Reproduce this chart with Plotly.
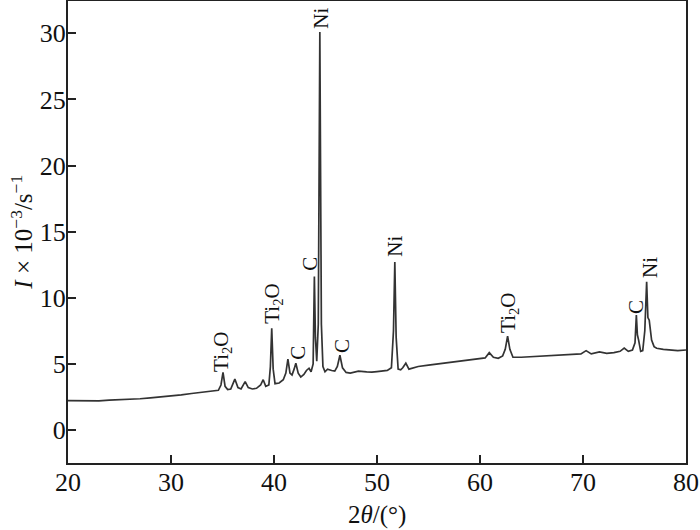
import plotly.graph_objects as go

two_theta = [20.0, 21.0, 22.0, 23.0, 24.0, 25.0, 26.0, 27.0, 28.0, 29.0, 30.0, 31.0, 32.0, 33.0, 34.0,
             34.6, 34.85, 35.05, 35.25, 35.5, 35.8, 36.2, 36.5, 36.8, 37.2, 37.5, 37.9, 38.3, 38.7, 38.95,
             39.2, 39.5, 39.65, 39.78, 39.92, 40.1, 40.5, 40.9, 41.15, 41.35, 41.55, 41.75, 41.95, 42.12,
             42.35, 42.6, 42.9, 43.15, 43.4, 43.6, 43.8, 43.92, 44.02, 44.15, 44.3, 44.45, 44.6, 44.75,
             44.95, 45.2, 45.6, 45.9, 46.15, 46.4, 46.65, 47.0, 47.4, 47.8, 48.2, 49.0, 49.5, 50.0, 50.5,
             51.0, 51.4, 51.6, 51.73, 51.86, 52.05, 52.3, 52.5, 52.8, 53.1, 53.5, 54.0, 55.0, 56.0, 57.0,
             58.0, 59.0, 60.0, 60.5, 60.9, 61.3, 61.77, 62.2, 62.45, 62.68, 62.9, 63.2, 64.0, 65.0, 66.0,
             67.0, 68.0, 69.0, 69.8, 70.3, 70.8, 71.6, 72.3, 73.0, 73.6, 74.0, 74.4, 74.8, 75.05, 75.18,
             75.28, 75.4, 75.6, 75.8, 76.0, 76.18, 76.3, 76.43, 76.66, 76.9, 77.15, 77.8, 78.5, 79.2, 80.0]

intensity = [2.22, 2.20, 2.22, 2.20, 2.26, 2.28, 2.33, 2.36, 2.42, 2.48, 2.55, 2.65, 2.76, 2.84, 2.92,
             3.00, 3.40, 4.35, 3.30, 3.05, 3.10, 3.85, 3.20, 3.10, 3.65, 3.20, 3.10, 3.15, 3.40, 3.80,
             3.30, 3.40, 4.80, 7.70, 4.60, 3.50, 3.55, 3.80, 4.30, 5.35, 4.30, 4.15, 4.60, 5.05,
             4.30, 4.00, 4.20, 4.50, 4.67, 4.40, 5.00, 11.6, 7.00, 5.20, 8.00, 30.1, 8.00, 4.80,
             4.40, 4.60, 4.50, 4.45, 4.80, 5.65, 4.70, 4.35, 4.30, 4.40, 4.45, 4.40, 4.38, 4.42, 4.45,
             4.50, 4.70, 7.50, 12.7, 7.00, 4.60, 4.55, 4.70, 5.05, 4.60, 4.70, 4.80, 4.90, 5.00, 5.10,
             5.15, 5.25, 5.35, 5.45, 5.85, 5.50, 5.42, 5.60, 6.10, 7.10, 6.10, 5.50, 5.50, 5.55, 5.60,
             5.60, 5.65, 5.70, 5.75, 6.00, 5.75, 5.90, 5.80, 5.85, 5.95, 6.20, 5.95, 6.05, 6.60, 8.70,
             7.20, 6.80, 5.95, 6.00, 7.50, 11.2, 8.50, 8.30, 6.80, 6.30, 6.18, 6.10, 6.05, 6.00, 6.05]

peak_labels = ["Ti<sub>2</sub>O", "Ti<sub>2</sub>O", "C", "C", "Ni", "C", "Ni", "Ti<sub>2</sub>O", "C", "Ni"]
label_x = [34.95, 39.88, 42.31, 43.47, 44.55, 46.59, 51.73, 62.81, 75.14, 76.5]
label_y = [5.9, 9.53, 5.82, 12.56, 31.17, 6.35, 13.92, 8.85, 9.3, 12.33]

x_ticks = [20, 30, 40, 50, 60, 70, 80]
y_ticks = [0, 5, 10, 15, 20, 25, 30]

serif = "Liberation Serif, Times New Roman, serif"

fig = go.Figure()
fig.add_trace(go.Scatter(x=two_theta, y=intensity, mode="lines",
                         line=dict(color="#333333", width=1.7), showlegend=False))

for t, x, y in zip(peak_labels, label_x, label_y):
    fig.add_annotation(x=x, y=y, text=t, showarrow=False, textangle=-90,
                       xanchor="center", yanchor="middle",
                       font=dict(family=serif, size=21, color="#111"))

fig.add_annotation(xref="paper", yref="paper", x=0.5, y=-0.113, text="2<i>θ</i>/(°)",
                   showarrow=False, xanchor="center", yanchor="middle",
                   font=dict(family=serif, size=25, color="#111"))
fig.add_annotation(xref="paper", yref="paper", x=-0.075, y=0.5,
                   text="<i>I</i> × 10<sup>−3</sup>/s<sup>−1</sup>",
                   showarrow=False, textangle=-90, xanchor="center", yanchor="middle",
                   font=dict(family=serif, size=25, color="#111"))

axis_common = dict(showgrid=False, zeroline=False, showline=True, linecolor="#222", linewidth=2,
                   mirror=True, ticks="inside", ticklen=8, tickwidth=1.5, tickcolor="#222",
                   automargin=False, ticklabelstandoff=-5,
                   tickfont=dict(family=serif, size=26, color="#111"))

fig.update_xaxes(range=[20, 80], tickvals=x_ticks, **axis_common)
fig.update_yaxes(range=[-2.5, 32.45], tickvals=y_ticks, **axis_common)

fig.update_layout(width=700, height=530, margin=dict(l=68, r=14, t=1, b=67, autoexpand=False),
                  plot_bgcolor="white", paper_bgcolor="white")

fig.write_html("out.html", config={"displayModeBar": False},
               post_script="document.body.style.margin='0';document.body.style.padding='0';")
